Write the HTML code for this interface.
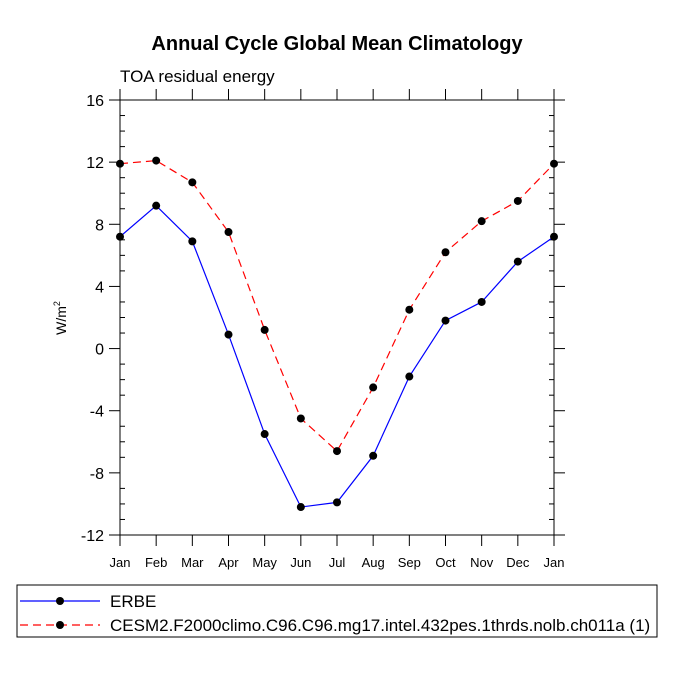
<!DOCTYPE html>
<html><head><meta charset="utf-8"><style>body{margin:0;background:#fff}svg{display:block;font-family:"Liberation Sans",sans-serif}</style></head>
<body>
<svg id="c" width="675" height="675">
<text x="337" y="50" text-anchor="middle" font-size="20" font-weight="bold">Annual Cycle Global Mean Climatology</text>
<text x="120" y="82" font-size="17">TOA residual energy</text>
<text transform="translate(66,318) rotate(-90)" text-anchor="middle" font-size="14">W/m<tspan dy="-6" font-size="9">2</tspan></text>
<g id="ax"></g><g id="marks"></g>
<rect x="17" y="585" width="640" height="52" fill="none" stroke="#000"/>
<g>
<line x1="20" y1="601" x2="100" y2="601" stroke="blue" stroke-width="1.2"/><circle cx="60" cy="601" r="4" fill="#000"/>
<text x="110" y="607" font-size="17">ERBE</text></g>
<g>
<line x1="20" y1="625" x2="100" y2="625" stroke="red" stroke-width="1.2" stroke-dasharray="8,5"/><circle cx="60" cy="625" r="4" fill="#000"/>
<text x="110" y="631" font-size="17">CESM2.F2000climo.C96.C96.mg17.intel.432pes.1thrds.nolb.ch011a (1)</text></g>
</svg>
<script>
const months=["Jan","Feb","Mar","Apr","May","Jun","Jul","Aug","Sep","Oct","Nov","Dec","Jan"];
const erbe=[7.2,9.2,6.9,0.9,-5.5,-10.2,-9.9,-6.9,-1.8,1.8,3.0,5.6,7.2];
const cesm=[11.9,12.1,10.7,7.5,1.2,-4.5,-6.6,-2.5,2.5,6.2,8.2,9.5,11.9];
const yTicks=[-12,-8,-4,0,4,8,12,16];
const L=120,R=554,T=100,B=535,ymin=-12,ymax=16;
const xs=i=>L+(R-L)*i/(months.length-1);
const ys=v=>B-(v-ymin)/(ymax-ymin)*(B-T);
const NS="http://www.w3.org/2000/svg";
function mk(p,t,a){const e=document.createElementNS(NS,t);for(const k in a)e.setAttribute(k,a[k]);p.appendChild(e);return e;}
const ax=document.getElementById('ax'),mg=document.getElementById('marks');
const fr=mk(ax,'rect',{x:L,y:T,width:R-L,height:B-T,fill:'none',stroke:'#000','stroke-width':1});


for(let v=ymin;v<=ymax;v++){const y=ys(v);
 if(v%4===0){mk(ax,'line',{x1:L-11,y1:y,x2:L,y2:y,stroke:'#000'});mk(ax,'line',{x1:R,y1:y,x2:R+11,y2:y,stroke:'#000'});}
 else{mk(ax,'line',{x1:L,y1:y,x2:L+5,y2:y,stroke:'#000'});mk(ax,'line',{x1:R-5,y1:y,x2:R,y2:y,stroke:'#000'});}}
yTicks.forEach(v=>{const t=mk(ax,'text',{x:L-16,y:ys(v)+6,'text-anchor':'end','font-size':16});t.textContent=v;

});
months.forEach((m,i)=>{const x=xs(i);
 mk(ax,'line',{x1:x,y1:B,x2:x,y2:B+11,stroke:'#000'});mk(ax,'line',{x1:x,y1:T-11,x2:x,y2:T,stroke:'#000'});
 const t=mk(ax,'text',{x:x,y:B+32,'text-anchor':'middle','font-size':13});t.textContent=m;
 
 });
function series(d,col,dash,name){
 const p=mk(mg,'polyline',{points:d.map((v,i)=>xs(i)+','+ys(v)).join(' '),fill:'none',stroke:col,'stroke-width':1.2,'stroke-dasharray':dash});
 
 
 d.forEach((v,i)=>{const c=mk(mg,'circle',{cx:xs(i),cy:ys(v),r:4,fill:'#000'});
 
 });}
series(erbe,'blue','none','erbe');
series(cesm,'red','8,5','cesm2');
</script>
</body></html>
